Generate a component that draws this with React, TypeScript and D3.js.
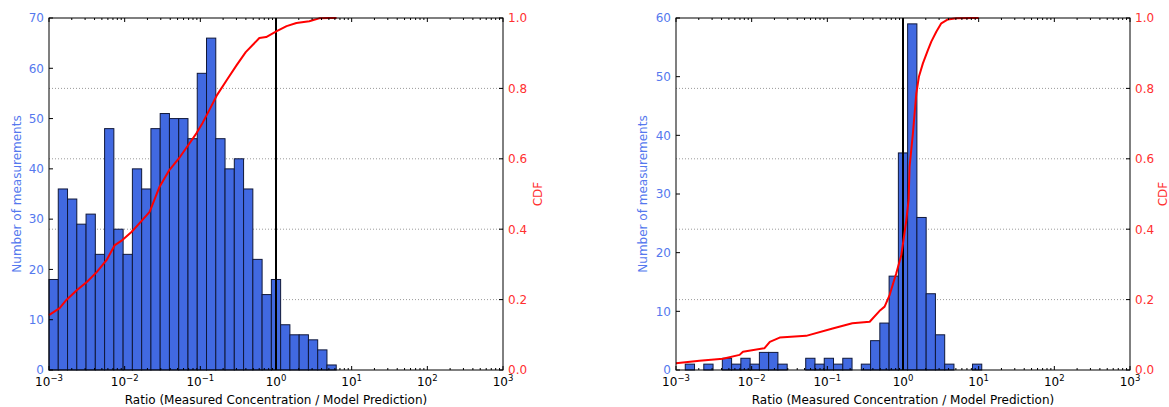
import React from "react";
import * as d3 from "d3";

// Histogram counts per logarithmic bin (49 bins from 1e-3 to 1e3)
const binCountLeft: number[] = [
  18, 36, 34, 29, 31, 23, 48, 28, 23, 40, 36, 48, 51, 50, 50, 46, 59, 66, 46, 40,
  42, 36, 22, 15, 18, 9, 7, 7, 6, 4, 1,
];
const binCountRight: number[] = [
  0, 1, 0, 1, 0, 2, 1, 2, 1, 3, 3, 1, 0, 0, 2, 1, 2, 1, 2, 0, 1, 5, 8, 16, 37,
  59, 26, 13, 6, 1, 0, 0, 1,
];

// CDF curves: log10(ratio) and cumulative fraction
const cdfLeftLog: number[] = [
  -3.0, -2.86, -2.77, -2.63, -2.5, -2.37, -2.24, -2.13, -2.03, -1.91, -1.8, -1.67,
  -1.54, -1.41, -1.27, -1.14, -1.05, -0.97, -0.88, -0.78, -0.65, -0.52, -0.4,
  -0.22, -0.13, 0.01, 0.14, 0.27, 0.44, 0.57, 0.7, 0.8,
];
const cdfLeftVal: number[] = [
  0.156, 0.176, 0.199, 0.227, 0.25, 0.278, 0.312, 0.355, 0.369, 0.392, 0.418,
  0.449, 0.52, 0.568, 0.605, 0.645, 0.673, 0.702, 0.739, 0.781, 0.824, 0.866,
  0.903, 0.943, 0.946, 0.963, 0.977, 0.986, 0.991, 0.999, 1.0, 1.0,
];
const cdfRightLog: number[] = [
  -3.0, -2.69, -2.38, -2.16, -2.115, -1.83, -1.76, -1.63, -1.28, -0.93, -0.67,
  -0.44, -0.3, -0.243, -0.177, -0.089, -0.022, 0.0, 0.044, 0.074, 0.087, 0.131,
  0.176, 0.21, 0.263, 0.329, 0.374, 0.44, 0.506, 0.593, 0.704, 0.923, 1.0,
];
const cdfRightVal: number[] = [
  0.019, 0.026, 0.032, 0.043, 0.052, 0.062, 0.08, 0.092, 0.097, 0.118, 0.133,
  0.137, 0.17, 0.18, 0.213, 0.275, 0.327, 0.36, 0.426, 0.483, 0.578, 0.672,
  0.786, 0.833, 0.871, 0.909, 0.933, 0.961, 0.985, 0.996, 0.999, 1.0, 1.0,
];

const xTickExps: number[] = [-3, -2, -1, 0, 1, 2, 3];
const cdfTicks: number[] = [0.0, 0.2, 0.4, 0.6, 0.8, 1.0];
const cdfTickLabels: string[] = ["0.0", "0.2", "0.4", "0.6", "0.8", "1.0"];
const leftYTicks: number[] = [0, 10, 20, 30, 40, 50, 60, 70];
const rightYTicks: number[] = [0, 10, 20, 30, 40, 50, 60];

const NBINS = 49;
const LOG_MIN = -3;
const LOG_MAX = 3;

const xLabel = "Ratio (Measured Concentration / Model Prediction)";
const yLabel = "Number of measurements";
const y2Label = "CDF";

const BLUE = "#4169E1";
const BLUE_TEXT = "#5578ee";
const RED_TEXT = "#ff3030";
const FONT = "DejaVu Sans, sans-serif";

type PanelProps = {
  x0: number;
  x1: number;
  counts: number[];
  yMax: number;
  yTicks: number[];
  cdfLog: number[];
  cdfVal: number[];
  yLabelX: number;
  cdfLabelX: number;
};

const Y0 = 18;
const Y1 = 370;

function Panel(p: PanelProps) {
  const x = d3.scaleLog().domain([1e-3, 1e3]).range([p.x0, p.x1]);
  const y = d3.scaleLinear().domain([0, p.yMax]).range([Y1, Y0]);
  const y2 = d3.scaleLinear().domain([0, 1]).range([Y1, Y0]);

  const edges = d3.range(NBINS + 1).map((i) => Math.pow(10, LOG_MIN + (i * (LOG_MAX - LOG_MIN)) / NBINS));

  const minor: number[] = [];
  for (let d = -3; d < 3; d++) for (let m = 2; m <= 9; m++) minor.push(m * Math.pow(10, d));

  const line = d3
    .line<number>()
    .x((_, i) => x(Math.pow(10, p.cdfLog[i])))
    .y((v) => y2(v));

  const cy = (Y0 + Y1) / 2;

  return (
    <g>
      {/* grid */}
      {cdfTicks
        .filter((t) => t > 0 && t < 1)
        .map((t) => (
          <line key={"g" + t} x1={p.x0} x2={p.x1} y1={y2(t)} y2={y2(t)} stroke="#9a9a9a" strokeWidth={1} strokeDasharray="1,2" />
        ))}
      {/* bars */}
      {p.counts.map((c, i) =>
        c > 0 ? (
          <rect
            key={"b" + i}
            x={x(edges[i])}
            y={y(c)}
            width={x(edges[i + 1]) - x(edges[i])}
            height={Y1 - y(c)}
            fill={BLUE}
            stroke="#10183a"
            strokeWidth={1}
          />
        ) : null
      )}
      {/* vertical line at ratio 1 */}
      <line x1={x(1)} x2={x(1)} y1={Y0} y2={Y1} stroke="#000" strokeWidth={2} />
      {/* CDF */}
      <path d={line(p.cdfVal) || ""} fill="none" stroke="#ff0000" strokeWidth={2} strokeLinejoin="round" />
      {/* frame */}
      <rect x={p.x0} y={Y0} width={p.x1 - p.x0} height={Y1 - Y0} fill="none" stroke="#000" strokeWidth={1} />
      {/* x ticks */}
      {xTickExps.map((e) => {
        const tx = x(Math.pow(10, e));
        return (
          <g key={"xt" + e}>
            <line x1={tx} x2={tx} y1={Y1} y2={Y1 - 4} stroke="#000" />
            <line x1={tx} x2={tx} y1={Y0} y2={Y0 + 4} stroke="#000" />
            <text x={tx} y={386} textAnchor="middle" fontFamily={FONT} fontSize={12} fill="#000">
              10
              <tspan dy={-5.5} fontSize={8.5}>
                {e < 0 ? "\u2212" + Math.abs(e) : String(e)}
              </tspan>
            </text>
          </g>
        );
      })}
      {minor.map((m, i) => {
        const tx = x(m);
        return (
          <g key={"mt" + i}>
            <line x1={tx} x2={tx} y1={Y1} y2={Y1 - 2} stroke="#000" />
            <line x1={tx} x2={tx} y1={Y0} y2={Y0 + 2} stroke="#000" />
          </g>
        );
      })}
      {/* left y ticks */}
      {p.yTicks.map((t) => (
        <g key={"yt" + t}>
          <line x1={p.x0} x2={p.x0 + 4} y1={y(t)} y2={y(t)} stroke="#000" />
          <text x={p.x0 - 5} y={y(t) + 4.3} textAnchor="end" fontFamily={FONT} fontSize={12} fill={BLUE_TEXT}>
            {t}
          </text>
        </g>
      ))}
      {/* right y ticks */}
      {cdfTicks.map((t, i) => (
        <g key={"y2t" + t}>
          <line x1={p.x1} x2={p.x1 - 4} y1={y2(t)} y2={y2(t)} stroke="#000" />
          <text x={p.x1 + 5} y={y2(t) + 4.3} textAnchor="start" fontFamily={FONT} fontSize={12} fill={RED_TEXT}>
            {cdfTickLabels[i]}
          </text>
        </g>
      ))}
      {/* axis labels */}
      <text x={(p.x0 + p.x1) / 2} y={404} textAnchor="middle" fontFamily={FONT} fontSize={12} fill="#000">
        {xLabel}
      </text>
      <text
        transform={`translate(${p.yLabelX},${cy}) rotate(-90)`}
        textAnchor="middle"
        dy={4}
        fontFamily={FONT}
        fontSize={12}
        fill={BLUE_TEXT}
      >
        {yLabel}
      </text>
      <text
        transform={`translate(${p.cdfLabelX},${cy}) rotate(-90)`}
        textAnchor="middle"
        dy={4}
        fontFamily={FONT}
        fontSize={12}
        fill={RED_TEXT}
      >
        {y2Label}
      </text>
    </g>
  );
}

export default function App() {
  return (
    <svg width={1169} height={407} style={{ position: "absolute", left: 0, top: 0, background: "#fff" }}>
      <rect x={0} y={0} width={1169} height={407} fill="#fff" />
      <Panel
        x0={49}
        x1={503}
        counts={binCountLeft}
        yMax={70}
        yTicks={leftYTicks}
        cdfLog={cdfLeftLog}
        cdfVal={cdfLeftVal}
        yLabelX={17}
        cdfLabelX={538}
      />
      <Panel
        x0={676}
        x1={1130}
        counts={binCountRight}
        yMax={60}
        yTicks={rightYTicks}
        cdfLog={cdfRightLog}
        cdfVal={cdfRightVal}
        yLabelX={643}
        cdfLabelX={1163}
      />
    </svg>
  );
}
